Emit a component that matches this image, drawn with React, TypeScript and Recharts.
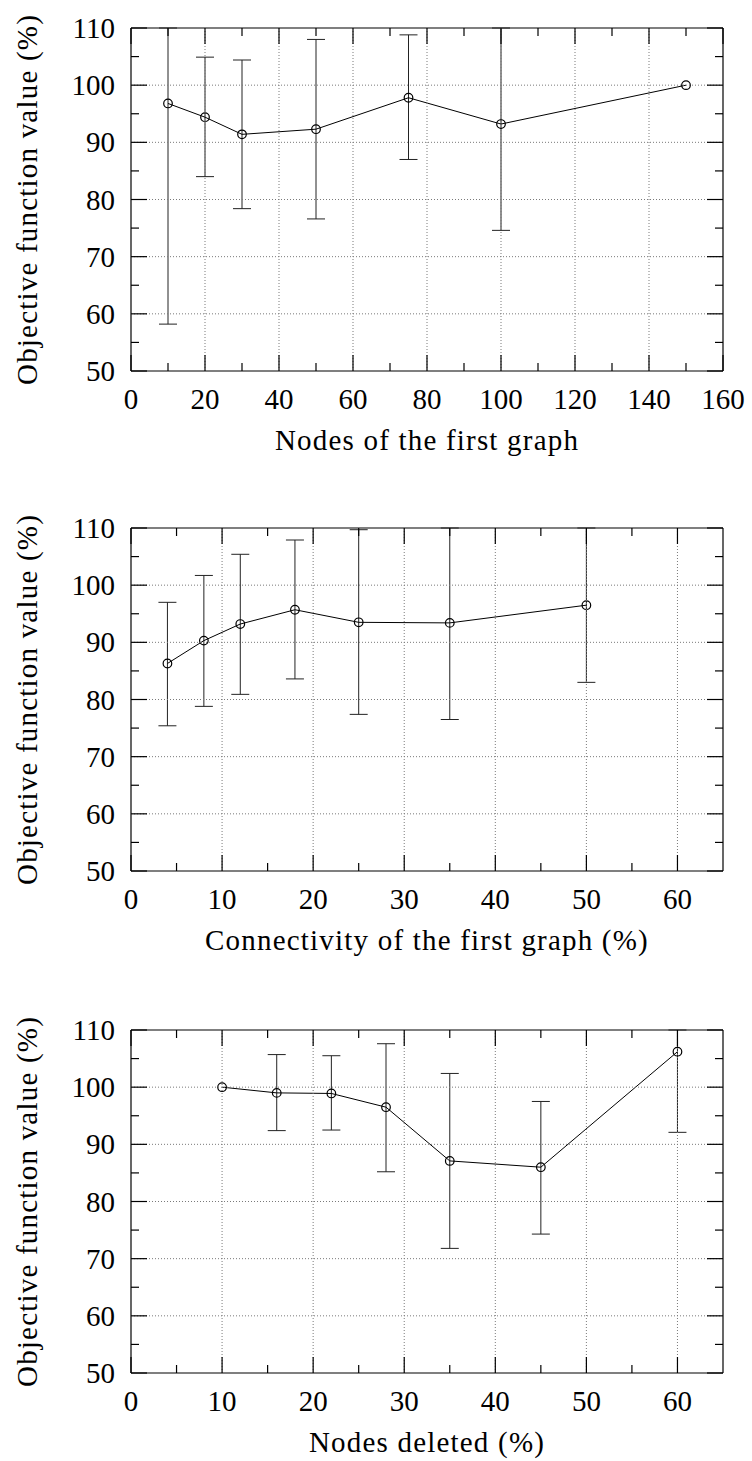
import React from 'react';
import { LineChart, Line, XAxis, YAxis, ErrorBar, ReferenceLine } from 'recharts';

// ---------- data ----------
const nodesX = [10, 20, 30, 50, 75, 100, 150];
const nodesMean = [96.8, 94.4, 91.4, 92.3, 97.8, 93.2, 100];
const nodesLow: (number | null)[] = [58.2, 84, 78.4, 76.6, 87, 74.6, null];
const nodesHigh: (number | null)[] = [110, 104.9, 104.4, 108, 108.8, 110, null];

const connX = [4, 8, 12, 18, 25, 35, 50];
const connMean = [86.3, 90.3, 93.2, 95.7, 93.5, 93.4, 96.5];
const connLow: (number | null)[] = [75.4, 78.8, 80.9, 83.6, 77.4, 76.5, 83];
const connHigh: (number | null)[] = [97, 101.7, 105.4, 107.9, 109.7, 110, 110];

const delX = [10, 16, 22, 28, 35, 45, 60];
const delMean = [100, 99, 98.9, 96.5, 87.1, 86, 106.2];
const delLow: (number | null)[] = [null, 92.4, 92.5, 85.2, 71.8, 74.3, 92.1];
const delHigh: (number | null)[] = [null, 105.7, 105.5, 107.6, 102.4, 97.5, 110];

const nodesXMajor = [0, 20, 40, 60, 80, 100, 120, 140, 160];
const nodesXMinor = [10, 30, 50, 70, 90, 110, 130, 150];
const pctXMajor = [0, 10, 20, 30, 40, 50, 60];
const pctXMinor = [5, 15, 25, 35, 45, 55];
const yMajor = [50, 60, 70, 80, 90, 100, 110];
const yMinor = [55, 65, 75, 85, 95, 105];

const yTitle = 'Objective function value (%)';
const titles = ['Nodes of the first graph', 'Connectivity of the first graph (%)', 'Nodes deleted (%)'];

// ---------- layout ----------
const FONT = 'Liberation Serif, serif';
const W = 752;
const H = 459;
const M = { top: 28, right: 29, bottom: 0, left: 0 };
const Y_AXIS_W = 131;
const X_AXIS_H = 88;
const PLOT_TOP = M.top;
const PLOT_BOTTOM = H - X_AXIS_H;
const PLOT_LEFT = Y_AXIS_W;
const PLOT_RIGHT = W - M.right;
const MAJOR = 16;
const MINOR = 8;
const GRID = '#7a7a7a';
const textStyle: React.CSSProperties = { fontFamily: FONT, fontSize: 29 };

type Row = { x: number; y: number; err: [number, number] | null };
const build = (xs: number[], mean: number[], lo: (number | null)[], hi: (number | null)[]): Row[] =>
  xs.map((x, i) => ({
    x,
    y: mean[i],
    err: lo[i] == null || hi[i] == null ? null : [mean[i] - (lo[i] as number), (hi[i] as number) - mean[i]],
  }));

const makeXTick = (major: number[], xMin: number, xMax: number) => (props: any) => {
  const { x, payload } = props;
  const v = payload.value;
  const isMajor = major.includes(v);
  const len = isMajor ? MAJOR : MINOR;
  const edge = v === xMin || v === xMax;
  return (
    <g>
      {isMajor && !edge && (
        <line x1={x} x2={x} y1={PLOT_TOP} y2={PLOT_BOTTOM} stroke={GRID} strokeWidth={1} strokeDasharray="1 2" />
      )}
      <line x1={x} x2={x} y1={PLOT_BOTTOM} y2={PLOT_BOTTOM - len} stroke="#000" strokeWidth={1.2} />
      <line x1={x} x2={x} y1={PLOT_TOP} y2={PLOT_TOP + len} stroke="#000" strokeWidth={1.2} />
      {isMajor && (
        <text x={x} y={PLOT_BOTTOM + 38} textAnchor="middle" style={textStyle} fill="#000">
          {v}
        </text>
      )}
    </g>
  );
};

const makeYTick = (major: number[]) => (props: any) => {
  const { y, payload } = props;
  const v = payload.value;
  const isMajor = major.includes(v);
  const len = isMajor ? MAJOR : MINOR;
  const edge = v === 50 || v === 110;
  return (
    <g>
      {isMajor && !edge && (
        <line x1={PLOT_LEFT} x2={PLOT_RIGHT} y1={y} y2={y} stroke={GRID} strokeWidth={1} strokeDasharray="1 2" />
      )}
      <line x1={PLOT_LEFT} x2={PLOT_LEFT + len} y1={y} y2={y} stroke="#000" strokeWidth={1.2} />
      <line x1={PLOT_RIGHT} x2={PLOT_RIGHT - len} y1={y} y2={y} stroke="#000" strokeWidth={1.2} />
      {isMajor && (
        <text x={PLOT_LEFT - 16} y={y + 10} textAnchor="end" style={textStyle} fill="#000">
          {v}
        </text>
      )}
    </g>
  );
};

const XTitle = ({ text }: { text: string }) => (
  <text
    x={(PLOT_LEFT + PLOT_RIGHT) / 2}
    y={PLOT_BOTTOM + 79}
    textAnchor="middle"
    style={{ ...textStyle, letterSpacing: 1.2 }}
    fill="#000"
  >
    {text}
  </text>
);

const YTitle = () => {
  const cy = (PLOT_TOP + PLOT_BOTTOM) / 2;
  return (
    <text
      x={37}
      y={cy}
      transform={`rotate(-90 37 ${cy})`}
      textAnchor="middle"
      style={{ ...textStyle, letterSpacing: 1.2 }}
      fill="#000"
    >
      {yTitle}
    </text>
  );
};

type PanelProps = {
  data: Row[];
  xMax: number;
  xMajor: number[];
  xMinor: number[];
  title: string;
};

const Panel = ({ data, xMax, xMajor, xMinor, title }: PanelProps) => {
  const xTicks = [...xMajor, ...xMinor].sort((a, b) => a - b);
  const yTicks = [...yMajor, ...yMinor].sort((a, b) => a - b);
  return (
    <LineChart width={W} height={H} data={data} margin={M}>
      <XAxis
        dataKey="x"
        type="number"
        domain={[0, xMax]}
        ticks={xTicks}
        interval={0}
        tickSize={0}
        tickMargin={0}
        tickLine={false}
        height={X_AXIS_H}
        axisLine={{ stroke: '#000', strokeWidth: 1.2 }}
        tick={makeXTick(xMajor, 0, xMax)}
        label={<XTitle text={title} />}
      />
      <YAxis
        type="number"
        domain={[50, 110]}
        ticks={yTicks}
        interval={0}
        tickSize={0}
        tickMargin={0}
        tickLine={false}
        width={Y_AXIS_W}
        axisLine={{ stroke: '#000', strokeWidth: 1.2 }}
        tick={makeYTick(yMajor)}
        label={<YTitle />}
      />
      <ReferenceLine y={110} stroke="#000" strokeWidth={1.2} />
      <ReferenceLine x={xMax} stroke="#000" strokeWidth={1.2} />
      <Line
        type="linear"
        dataKey="y"
        stroke="#000"
        strokeWidth={1}
        dot={{ r: 4.3, stroke: '#000', strokeWidth: 1.2, fill: 'none' }}
        isAnimationActive={false}
      >
        <ErrorBar dataKey="err" direction="y" width={9} stroke="#222" strokeWidth={1} />
      </Line>
    </LineChart>
  );
};

export default function App() {
  return (
    <div style={{ position: 'absolute', left: 0, top: 0, width: 752, height: 1461, background: '#fff' }}>
      <div style={{ position: 'absolute', left: 0, top: 0 }}>
        <Panel data={build(nodesX, nodesMean, nodesLow, nodesHigh)} xMax={160} xMajor={nodesXMajor} xMinor={nodesXMinor} title={titles[0]} />
      </div>
      <div style={{ position: 'absolute', left: 0, top: 500 }}>
        <Panel data={build(connX, connMean, connLow, connHigh)} xMax={65} xMajor={pctXMajor} xMinor={pctXMinor} title={titles[1]} />
      </div>
      <div style={{ position: 'absolute', left: 0, top: 1002 }}>
        <Panel data={build(delX, delMean, delLow, delHigh)} xMax={65} xMajor={pctXMajor} xMinor={pctXMinor} title={titles[2]} />
      </div>
    </div>
  );
}
